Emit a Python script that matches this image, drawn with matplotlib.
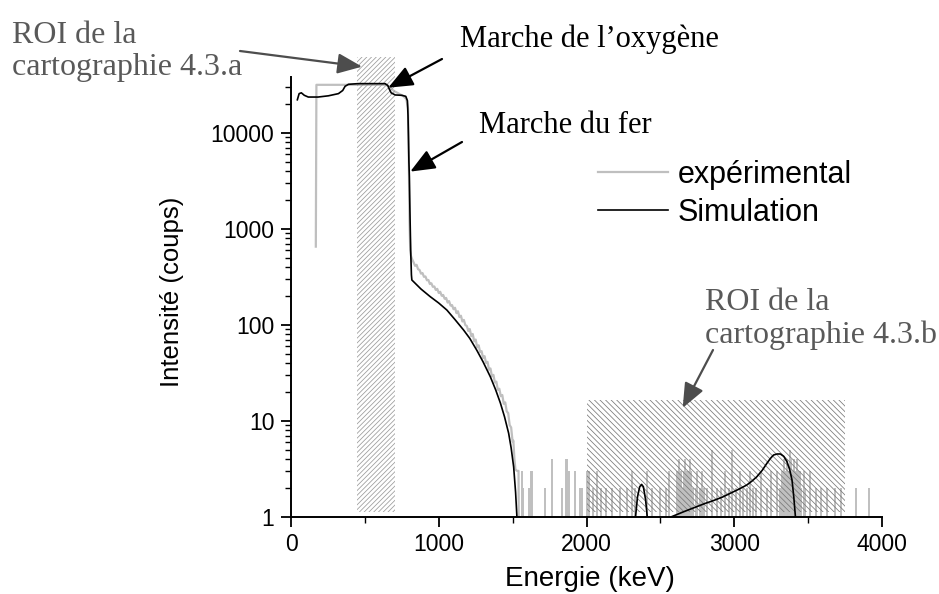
import matplotlib
matplotlib.use("Agg")
from matplotlib import pyplot as plt
from matplotlib.patches import Rectangle

plt.rcParams['font.family'] = ['Liberation Sans', 'DejaVu Sans']
plt.rcParams['hatch.linewidth'] = 0.55

# spectre experimental (partie continue)
exp_e = [168, 172, 300, 500, 640, 660, 680, 700, 720, 740, 760, 780, 792, 797, 802, 807, 812, 820,
         830, 840, 850, 860, 870, 880, 890, 900, 910, 920, 930, 940, 950, 960, 970, 980, 990,
         1000, 1010, 1020, 1030, 1040, 1050, 1060, 1070, 1080, 1090, 1100, 1110, 1120, 1130, 1140,
         1150, 1160, 1170, 1180, 1190, 1200, 1210, 1220, 1230, 1240, 1250, 1260, 1270, 1280, 1290,
         1300, 1310, 1320, 1330, 1340, 1350, 1360, 1370, 1380, 1390, 1400, 1410, 1420, 1430, 1440,
         1450, 1460, 1470, 1480, 1490, 1500, 1505, 1512, 1519, 1530, 1540, 1542]
exp_c = [650, 31500, 31500, 31500, 31500, 30500, 28500, 27000, 26000, 25000, 24000, 22500, 18000, 6000, 1200, 600, 520, 480,
         445, 410, 420, 378, 372, 340, 345, 315, 318, 290, 292, 265, 270, 248, 250, 230, 236,
         214, 220, 200, 204, 186, 190, 170, 176, 158, 160, 145, 150, 132, 138, 120,
         124, 108, 112, 99, 97, 86, 90, 76, 80, 67, 70, 58, 61, 52, 53,
         45, 47, 40, 41, 34, 35, 29, 30, 25, 25.5, 21, 21.5, 18, 18.5, 15,
         15.5, 12.5, 12, 9, 8.5, 6, 6.2, 4, 3.1, 3, 3, 0.5]

# bruit experimental au-dela de 1530 keV (pics isoles)
spike_e = [1564, 1573, 1608, 1625, 1634, 1722, 1764, 1835, 1858, 1869, 1880, 1919, 1959, 1971,
           2005, 2020, 2045, 2070, 2100, 2130, 2175, 2230, 2275, 2310, 2330, 2410, 2445, 2500, 2535, 2560,
           2615, 2625, 2632, 2640, 2650, 2658, 2665, 2672, 2680, 2690, 2700, 2710, 2720,
           2740, 2750, 2765, 2780, 2795, 2815, 2850, 2885, 2910, 2935, 2965, 2985, 3010, 3040, 3060,
           3085, 3105, 3125, 3150, 3180, 3225, 3250, 3290, 3310,
           3325, 3335, 3345, 3355, 3365, 3375, 3385, 3395, 3405, 3415, 3425, 3435, 3445, 3455, 3470, 3480,
           3510, 3550, 3590, 3630, 3680, 3720, 3824, 3914]
spike_c = [3, 2, 2, 3, 3, 2, 4, 2, 4, 4, 3, 3, 2, 2,
           3, 3, 2, 3, 2, 2, 2, 2, 2, 3, 2, 3, 2, 2, 2, 3,
           3, 4, 3, 3, 2, 3, 4, 3, 3, 3, 4, 3, 2,
           2, 3, 2, 3, 2, 2, 5, 2, 2, 3, 2, 5, 2, 3, 2,
           2, 3, 2, 2, 3, 2, 3, 3, 2,
           3, 4, 3, 4, 3, 5, 4, 3, 4, 3, 4, 3, 3, 2, 3, 2,
           3, 2, 2, 2, 2, 2, 2, 2]

# simulation
sim_e = [43, 55, 70, 90, 117, 183, 253, 321, 350, 366, 389, 454, 637, 655, 665, 678, 705, 750, 777,
         788, 792, 795, 798, 801, 805, 810, 815, 818, 880, 942, 1000, 1055, 1110, 1168, 1210, 1258,
         1300, 1349, 1385, 1417, 1445, 1473, 1490, 1507, 1520, 1529, 1535,
         2325, 2332, 2345, 2360, 2373, 2385, 2400, 2411, 2415,
         2570, 2576, 2660, 2745, 2800, 2858, 2920, 2972, 3030, 3085, 3120, 3153, 3190, 3221, 3245,
         3266, 3290, 3312, 3335, 3357, 3375, 3391, 3403, 3414, 3418]
sim_c = [22000, 25500, 26000, 24500, 23500, 23500, 24200, 25500, 27500, 30400, 31900, 32400, 32400, 31000,
         28500, 26000, 24700, 24500, 23900, 21500, 15000, 9000, 5000, 3500, 1500, 600, 330, 292, 235, 196,
         168, 142, 113, 88, 72, 54, 41, 28.7, 21, 15.3, 11, 7.4, 5.2, 3.3, 1.8, 1.0, 0.5,
         0.5, 1.0, 1.6, 2.05, 2.17, 2.05, 1.5, 1.0, 0.5,
         0.5, 1.0, 1.13, 1.27, 1.37, 1.47, 1.6, 1.75, 1.93, 2.14, 2.35, 2.61, 3.05, 3.6, 4.05,
         4.39, 4.5, 4.5, 4.25, 3.74, 3.1, 2.41, 1.6, 1.0, 0.5]

# zones ROI (keV, coups)
roi_a = (450, 705, 1.12, 62000)
roi_b = (2000, 3750, 1.12, 16.4)

W, H = 939, 594
fig = plt.figure(figsize=(W / 100, H / 100), dpi=100)
ax = fig.add_axes([291 / W, 1 - 516.7 / H, (882 - 291) / W, (516.7 - 77) / H])

def fig_xy(px, py):
    return (px / W, 1 - py / H)

ax.plot(exp_e, exp_c, color='#bfbfbf', lw=1.6, zorder=1)
ax.vlines(spike_e, 0.5, spike_c, color='#bfbfbf', lw=1.4, zorder=1)
ax.plot(sim_e, sim_c, color='black', lw=1.2, zorder=3)

for roi, h, c in [(roi_a, '/' * 7, '#9a9a9a'), (roi_b, '\\' * 6, '#787878')]:
    r = Rectangle((roi[0], roi[2]), roi[1] - roi[0], roi[3] - roi[2], facecolor='none',
                  edgecolor=c, hatch=h, lw=0, clip_on=False, zorder=2)
    ax.add_patch(r)

ax.set_yscale('log')
ax.set_xlim(0, 4000)
ax.set_ylim(1, 38000)
ax.set_xticks([0, 1000, 2000, 3000, 4000])
ax.set_xticks([500, 1500, 2500, 3500], minor=True)
ax.set_yticks([1, 10, 100, 1000, 10000])
ax.set_yticklabels(['1', '10', '100', '1000', '10000'])
ax.tick_params(which='major', direction='out', length=7, width=1.3, labelsize=16.5, pad=5)
ax.tick_params(which='minor', direction='out', length=4, width=1.0)
ax.spines['top'].set_visible(False)
ax.spines['right'].set_visible(False)
ax.spines['left'].set_linewidth(1.4)
ax.spines['bottom'].set_linewidth(1.4)

fig.text(590 / W, 1 - 586 / H, 'Energie (keV)', fontsize=20, ha='center', va='baseline')
fig.text(172 / W, 1 - 292 / H, 'Intensité (coups)', fontsize=18.5, ha='center', va='center', rotation=90)

# legende
h1, = ax.plot([], [], color='#bfbfbf', lw=1.6)
h2, = ax.plot([], [], color='black', lw=1.2)
ax.legend([h1, h2], ['expérimental', 'Simulation'], frameon=False, fontsize=22,
          loc='upper left', bbox_to_anchor=fig_xy(598, 160), bbox_transform=fig.transFigure,
          borderaxespad=0, borderpad=0, handlelength=2.3, handletextpad=0.3, labelspacing=0.25)

serif = ['Liberation Serif', 'DejaVu Serif']
fig.text(12 / W, 1 - 75 / H, 'ROI de la\ncartographie 4.3.a', family=serif, fontsize=23,
         color='#595959', ha='left', va='baseline', linespacing=1.15)
fig.text(705 / W, 1 - 343 / H, 'ROI de la\ncartographie 4.3.b', family=serif, fontsize=23,
         color='#595959', ha='left', va='baseline', linespacing=1.15)
fig.text(460 / W, 1 - 47 / H, 'Marche de l\u2019oxygène', family=serif, fontsize=22,
         ha='left', va='baseline')
fig.text(479 / W, 1 - 133 / H, 'Marche du fer', family=serif, fontsize=22,
         ha='left', va='baseline')

arrow_gray = dict(arrowstyle='-|>,head_length=0.6,head_width=0.25', color='#4d4d4d', lw=1.6,
                  mutation_scale=25, shrinkA=0, shrinkB=0)
arrow_black = dict(arrowstyle='-|>,head_length=0.6,head_width=0.25', color='black', lw=1.6,
                   mutation_scale=25, shrinkA=0, shrinkB=0)
ax.annotate('', xy=(481, 48700), xytext=fig_xy(240, 51), textcoords='figure fraction',
            arrowprops=arrow_gray, annotation_clip=False)
ax.annotate('', xy=(658, 29400), xytext=fig_xy(442, 59), textcoords='figure fraction',
            arrowprops=arrow_black, annotation_clip=False)
ax.annotate('', xy=(807, 3930), xytext=fig_xy(462, 142), textcoords='figure fraction',
            arrowprops=arrow_black, annotation_clip=False)
ax.annotate('', xy=(2651, 13.6), xytext=fig_xy(713, 350), textcoords='figure fraction',
            arrowprops=arrow_gray, annotation_clip=False)

plt.savefig('out.png', dpi=100)
